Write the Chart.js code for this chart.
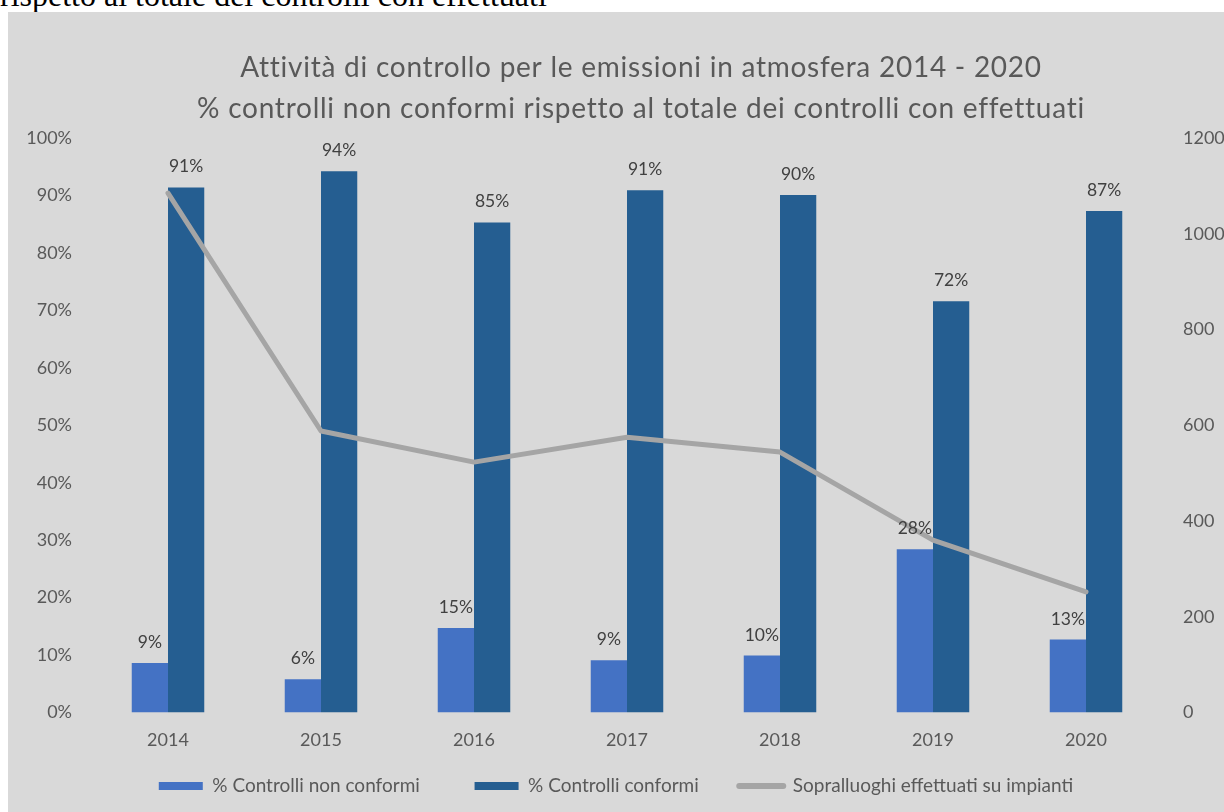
<!DOCTYPE html>
<html>
<head>
<meta charset="utf-8">
<script src="https://cdn.jsdelivr.net/npm/chart.js@4/dist/chart.umd.min.js"></script>
<style>
  body { margin: 0; background: #fff; width: 1224px; height: 812px; overflow: hidden; position: relative; }
  .caption { position: absolute; left: 0; top: -21px; font-family: "Liberation Serif", serif; font-size: 32px; line-height: 32px; color: #000; white-space: nowrap; }
  .panel { position: absolute; left: 8px; top: 12px; width: 1216px; height: 800px; background: #d9d9d9; }
</style>
</head>
<body>
<div class="caption">rispetto al totale dei controlli con effettuati</div>
<div class="panel"><canvas id="chart" width="1216" height="800"></canvas></div>
<script>
var years = ['2014', '2015', '2016', '2017', '2018', '2019', '2020'];
var nonConformi = [8.6, 5.8, 14.7, 9.1, 9.9, 28.4, 12.7];
var conformi = [91.4, 94.2, 85.3, 90.9, 90.1, 71.6, 87.3];
var sopralluoghi = [1085, 588, 523, 575, 544, 360, 252];
var titleLines = [
  'Attività di controllo per le emissioni in atmosfera 2014 - 2020',
  '% controlli non conformi rispetto al totale dei controlli con effettuati'
];

var FONT = 'Lato, "Noto Sans", sans-serif';

// title drawn by hand so it can sit a bit right of the canvas centre
var titlePlugin = {
  id: 'twoLineTitle',
  afterDraw: function(chart) {
    var ctx = chart.ctx;
    ctx.save();
    ctx.font = '28px ' + FONT;
    ctx.letterSpacing = '0.75px';
    ctx.fillStyle = '#595959';
    ctx.textAlign = 'center';
    ctx.textBaseline = 'alphabetic';
    ctx.fillText(titleLines[0], 633, 65);
    ctx.fillText(titleLines[1], 633, 106);
    ctx.restore();
  }
};

// percent labels above the bars
var barLabels = {
  id: 'barLabels',
  afterDatasetsDraw: function(chart) {
    var ctx = chart.ctx;
    ctx.save();
    ctx.font = '17.5px ' + FONT;
    ctx.fillStyle = '#404040';
    ctx.textAlign = 'center';
    ctx.textBaseline = 'alphabetic';
    chart.data.datasets.forEach(function(ds, i) {
      if (ds.type !== 'bar') return;
      chart.getDatasetMeta(i).data.forEach(function(bar, j) {
        ctx.fillText(Math.round(ds.data[j]) + '%', bar.x, bar.y - 15);
      });
    });
    ctx.restore();
  }
};

// keep the legend box short, its padding is only wanted sideways
var legendHeight = {
  id: 'legendHeight',
  beforeLayout: function(chart) {
    var legend = chart.legend;
    if (!legend || legend._shortFit) return;
    var fit = legend.fit;
    legend.fit = function() {
      fit.call(this);
      this.height = 47.5;
    };
    legend._shortFit = true;
  }
};

var gaps = ['\u2003\u2003\u2003', '\u2003\u2003', ''];

new Chart(document.getElementById('chart').getContext('2d'), {
  data: {
    labels: years,
    datasets: [
      {
        type: 'bar',
        label: '% Controlli non conformi',
        data: nonConformi,
        backgroundColor: '#4472c4',
        borderWidth: 0,
        yAxisID: 'y',
        categoryPercentage: 0.474,
        barPercentage: 1
      },
      {
        type: 'bar',
        label: '% Controlli conformi',
        data: conformi,
        backgroundColor: '#255e91',
        borderWidth: 0,
        yAxisID: 'y',
        categoryPercentage: 0.474,
        barPercentage: 1
      },
      {
        type: 'line',
        label: 'Sopralluoghi effettuati su impianti',
        data: sopralluoghi,
        borderColor: '#a5a5a5',
        backgroundColor: '#a5a5a5',
        borderWidth: 5,
        borderCapStyle: 'round',
        borderJoinStyle: 'round',
        pointRadius: 0,
        tension: 0,
        yAxisID: 'y1',
        order: -1
      }
    ]
  },
  options: {
    responsive: false,
    animation: false,
    layout: { padding: { top: 126, left: 0, right: 0, bottom: 0 } },
    plugins: {
      title: { display: false },
      tooltip: { enabled: false },
      legend: {
        position: 'bottom',
        labels: {
          font: { family: FONT, size: 19 },
          color: '#595959',
          usePointStyle: true,
          pointStyleWidth: 44,
          boxHeight: 8,
          padding: 12,
          sort: function(a, b) { return a.datasetIndex - b.datasetIndex; },
          generateLabels: function(chart) {
            var items = Chart.defaults.plugins.legend.labels.generateLabels(chart);
            items.forEach(function(it) {
              var ds = chart.data.datasets[it.datasetIndex];
              it.text = ds.label + gaps[it.datasetIndex];
              it.pointStyle = ds.type === 'line' ? 'line' : 'rect';
              if (ds.type === 'line') { it.lineWidth = 6; it.lineCap = 'round'; }
            });
            return items;
          }
        }
      }
    },
    scales: {
      x: {
        offset: true,
        grid: { display: false, drawTicks: false },
        border: { display: false },
        ticks: { color: '#595959', font: { family: FONT, size: 18 }, padding: 17 },
        afterFit: function(scale) { scale.height = 52; }
      },
      y: {
        position: 'left',
        min: 0,
        max: 100,
        grid: { display: false, drawTicks: false },
        border: { display: false },
        ticks: {
          stepSize: 10,
          color: '#595959',
          font: { family: FONT, size: 18 },
          padding: 19.5,
          callback: function(v) { return v + '%'; }
        },
        afterFit: function(scale) { scale.width = 83.5; }
      },
      y1: {
        position: 'right',
        min: 0,
        max: 1200,
        grid: { display: false, drawTicks: false },
        border: { display: false },
        ticks: {
          stepSize: 200,
          color: '#595959',
          font: { family: FONT, size: 18 },
          padding: 20.5,
          callback: function(v) { return String(v); }
        },
        afterFit: function(scale) { scale.width = 61.5; }
      }
    }
  },
  plugins: [titlePlugin, barLabels, legendHeight]
});
</script>
</body>
</html>
